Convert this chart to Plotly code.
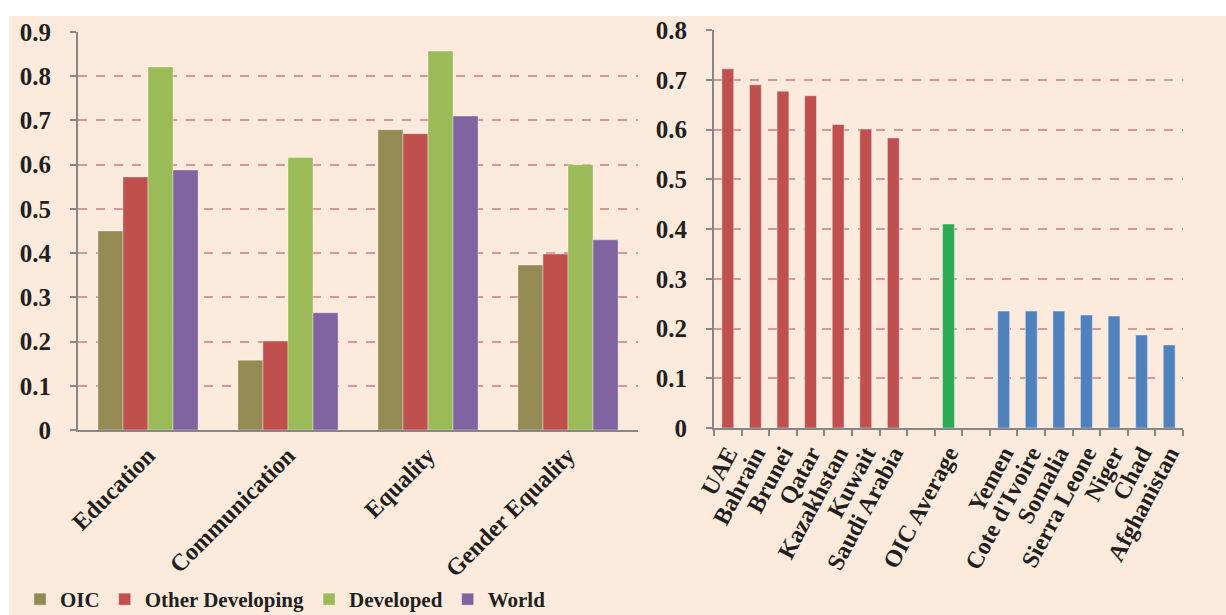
import plotly.graph_objects as go

W, H = 1226, 615

# ---- Left chart data ----
dimensions = ["Education", "Communication", "Equality", "Gender Equality"]
oic = [0.450, 0.158, 0.679, 0.373]
other_developing = [0.572, 0.201, 0.670, 0.398]
developed = [0.821, 0.616, 0.857, 0.600]
world = [0.588, 0.265, 0.710, 0.430]

# ---- Right chart data ----
top_countries = ["UAE", "Bahrain", "Brunei", "Qatar", "Kazakhstan", "Kuwait", "Saudi Arabia"]
top_values = [0.722, 0.690, 0.677, 0.668, 0.610, 0.601, 0.583]
avg_label = ["OIC Average"]
avg_value = [0.410]
bottom_countries = ["Yemen", "Cote d'Ivoire", "Somalia", "Sierra Leone", "Niger", "Chad", "Afghanistan"]
bottom_values = [0.235, 0.235, 0.235, 0.227, 0.225, 0.187, 0.167]
right_categories = top_countries + [" "] + avg_label + ["  "] + bottom_countries

left_y_ticks = [0, 0.1, 0.2, 0.3, 0.4, 0.5, 0.6, 0.7, 0.8, 0.9]
right_y_ticks = [0, 0.1, 0.2, 0.3, 0.4, 0.5, 0.6, 0.7, 0.8]

FONT = "Liberation Serif"
TXT = "#231f20"
BG = "#fcebdd"
GRID = "#d99694"
AXIS = "#868686"

fig = go.Figure()

series = [("OIC", oic, "#948a54"), ("Other Developing", other_developing, "#c0504d"),
          ("Developed", developed, "#9bbb59"), ("World", world, "#8064a2")]
for name, vals, col in series:
    fig.add_trace(go.Bar(x=dimensions, y=vals, name=name,
                         marker=dict(color=col, line=dict(color="rgba(255,255,255,0.35)", width=1)),
                         xaxis="x", yaxis="y", offsetgroup=name))

fig.add_trace(go.Bar(x=top_countries, y=top_values, marker=dict(color="#c0504d"), showlegend=False,
                     xaxis="x2", yaxis="y2", width=0.43))
fig.add_trace(go.Bar(x=avg_label, y=avg_value, marker=dict(color="#2caa54"), showlegend=False,
                     xaxis="x2", yaxis="y2", width=0.43))
fig.add_trace(go.Bar(x=bottom_countries, y=bottom_values, marker=dict(color="#4f81bd"), showlegend=False,
                     xaxis="x2", yaxis="y2", width=0.43))


def fx(px):
    return px / W


def fy(py):
    return 1 - py / H


xlab_font = dict(family=FONT, size=24, color=TXT, weight="bold")
ylab_font = dict(family=FONT, size=25, color=TXT, weight="bold")

fig.update_layout(
    width=W, height=H,
    margin=dict(l=0, r=0, t=0, b=0, autoexpand=False),
    paper_bgcolor="white",
    plot_bgcolor="rgba(0,0,0,0)",
    font=dict(family=FONT, color=TXT, size=20),
    barmode="group",
    bargap=0.285,
    bargroupgap=0,
    showlegend=True,
    legend=dict(orientation="h", x=fx(20), y=fy(620), xanchor="left", yanchor="bottom",
                font=dict(family=FONT, size=21, color=TXT, weight="bold"), bgcolor="rgba(0,0,0,0)",
                itemwidth=30, tracegroupgap=0),
    xaxis=dict(domain=[fx(78), fx(638)], anchor="y", type="category", categoryorder="array",
               categoryarray=dimensions, automargin=False,
               tickmode="array", tickvals=dimensions, ticktext=dimensions,
               tickangle=-45, tickfont=xlab_font,
               showline=True, linecolor=AXIS, linewidth=2, ticks="", showgrid=False),
    yaxis=dict(domain=[fy(430), fy(32)], anchor="x", range=[0, 0.9], tickvals=left_y_ticks, automargin=False,
               ticktext=["0" if v == 0 else f"{v:.1f}" for v in left_y_ticks],
               tickfont=ylab_font,
               showline=True, linecolor=AXIS, linewidth=2, ticks="outside", ticklen=6, tickcolor=AXIS, tickwidth=2,
               showgrid=True, gridcolor=GRID, griddash="dash", gridwidth=1.5, zeroline=False, ticklabelstandoff=14),
    xaxis2=dict(domain=[fx(714), fx(1183)], anchor="y2", type="category", categoryorder="array",
                categoryarray=right_categories, automargin=False,
                tickmode="array", tickvals=right_categories, ticktext=right_categories,
                tickangle=-62, tickfont=xlab_font,
                showline=True, linecolor=AXIS, linewidth=2, ticks="outside", tickson="boundaries", ticklen=6,
                tickcolor=AXIS, tickwidth=2, showgrid=False),
    yaxis2=dict(domain=[fy(428), fy(30)], anchor="x2", range=[0, 0.8], tickvals=right_y_ticks, automargin=False,
                ticktext=["0" if v == 0 else f"{v:.1f}" for v in right_y_ticks],
                tickfont=ylab_font,
                showline=True, linecolor=AXIS, linewidth=2, ticks="outside", ticklen=6, tickcolor=AXIS, tickwidth=2,
                showgrid=True, gridcolor=GRID, griddash="dash", gridwidth=1.5, zeroline=False, ticklabelstandoff=14),
    shapes=[dict(type="rect", xref="paper", yref="paper", x0=fx(9), x1=1, y0=0, y1=fy(16),
                 fillcolor=BG, line=dict(width=0), layer="below")],
)

fig.write_html("out.html")
